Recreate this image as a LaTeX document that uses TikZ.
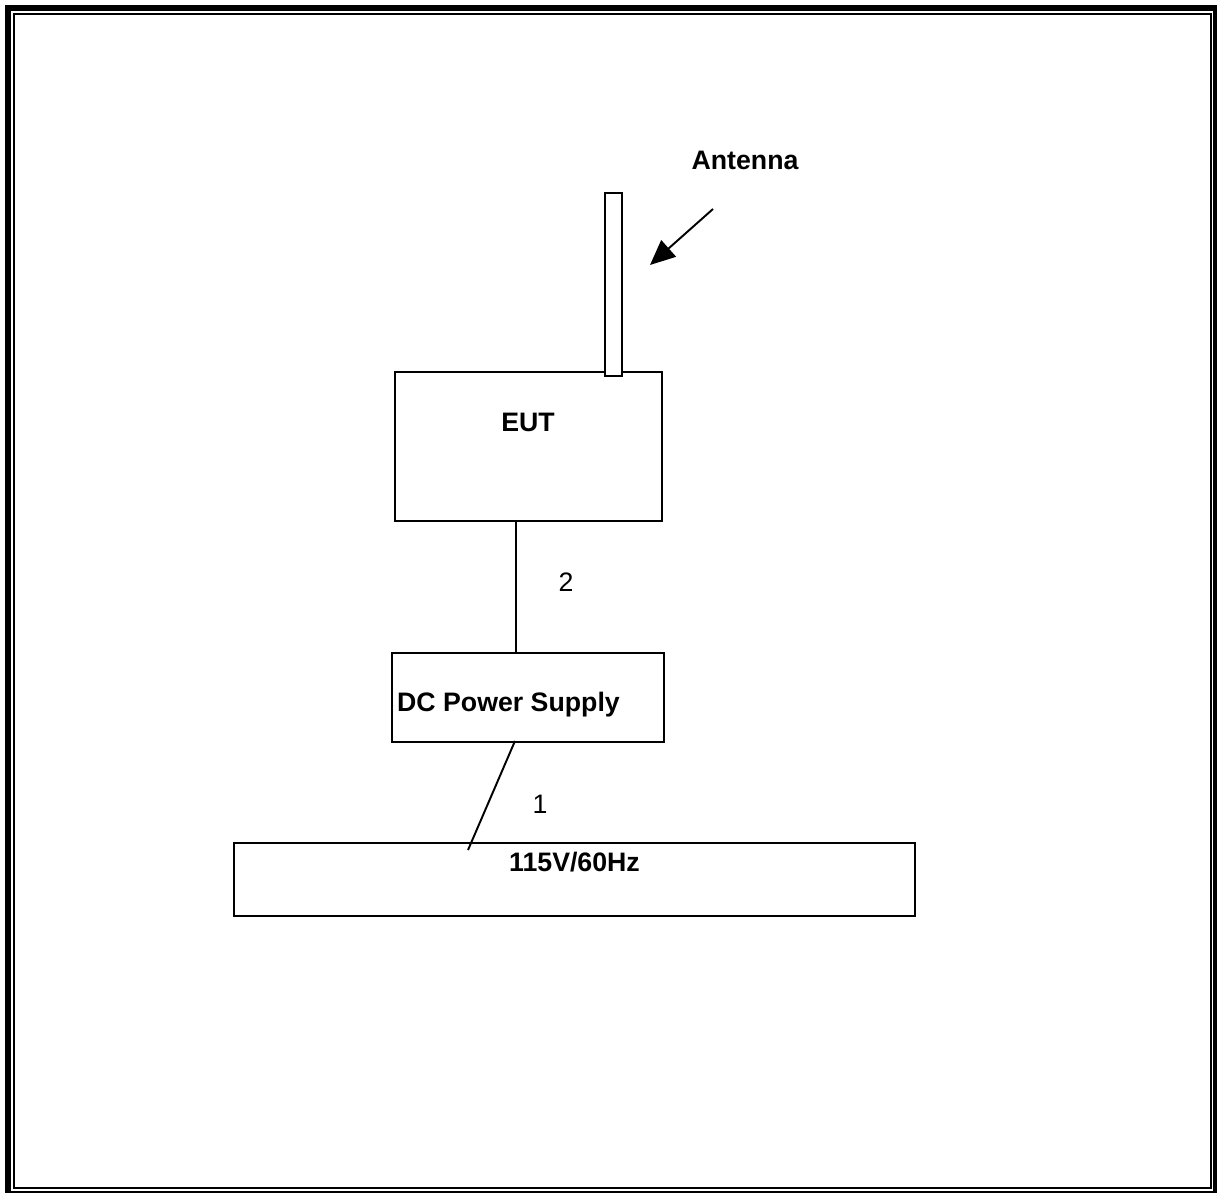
\documentclass[tikz,border=0pt]{standalone}
\usepackage{fontspec}
\setmainfont{Liberation Sans}
\usepackage{tikz}
\usetikzlibrary{arrows.meta,calc}

\begin{document}
\begin{tikzpicture}[x=0.02cm,y=-0.02cm,
  every node/.style={inner sep=0pt,font=\fontsize{15.2}{18}\selectfont},
  unit/.style={draw,line width=1.1pt,fill=white,rectangle},
  tag/.style={font=\fontsize{15.2}{18}\selectfont\bfseries},
  wire/.style={line width=1.1pt}]
\useasboundingbox (0,0) rectangle (1217,1193);
% frame
\draw[line width=3.4pt] (8,1192) -- (8,8) -- (1217,8);
\draw[line width=2.2pt] (1215,8) -- (1215,1192);
\draw[line width=1.1pt] (5,1192) -- (1217,1192);
\draw[line width=1.1pt] (14,14) rectangle (1211,1188);
% units
\node[unit,minimum width=5.34cm,minimum height=2.98cm] (eut) at (528.5,446.5) {};
\node[unit,minimum width=0.34cm,minimum height=3.66cm] (ant) at (613.5,284.5) {};
\node[unit,minimum width=5.44cm,minimum height=1.78cm] (dc) at (528,697.5) {};
\node[unit,minimum width=13.62cm,minimum height=1.46cm] (mains) at (574.5,879.5) {};
\node[tag] (eutlbl) at (528,422) {EUT};
\node[tag] (dclbl) at (508.5,705) {DC Power Supply};
\node[tag] (mainslbl) at (574.5,862) {115V/60Hz};
\node[tag] (antlbl) at (745,160) {Antenna};
\node (c2) at (566,582) {2};
\node (c1) at (540,804) {1};
% cables
\draw[wire] ($(eut.south)+(-12.5,0)$) -- ($(dc.north)+(-12,0)$);
\draw[wire] ($(dc.south)+(-13,-2)$) -- ($(mains.north)+(-106.5,8)$);
% pointer
\coordinate (p0) at (713,209);
\coordinate (p1) at (650,265);
\draw[wire,-{Triangle[length=0.5cm,width=0.44cm]}] (p0) -- (p1);
\end{tikzpicture}
\end{document}
